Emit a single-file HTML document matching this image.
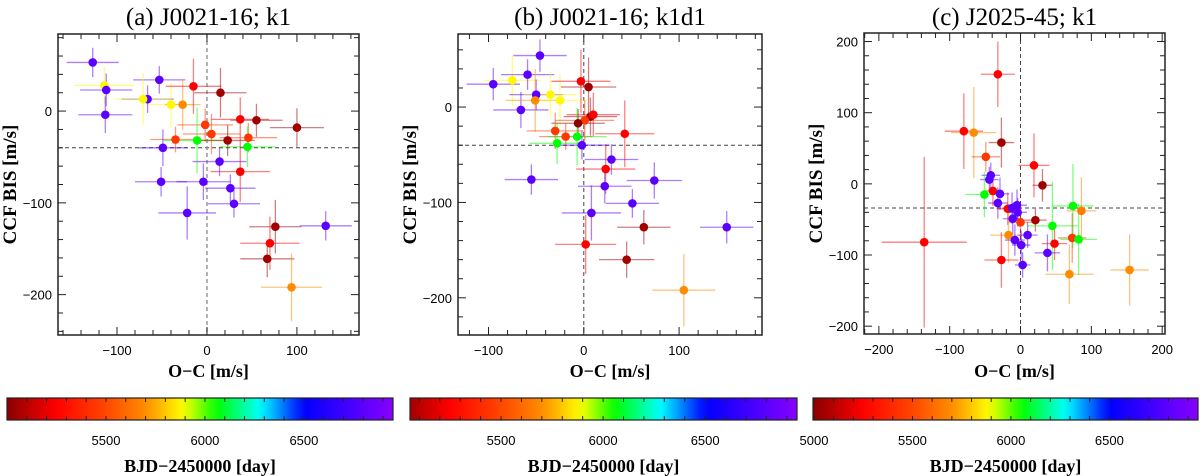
<!DOCTYPE html>
<html><head><meta charset="utf-8">
<style>
html,body{margin:0;padding:0;background:#fff;}
svg{display:block;}
</style></head>
<body>
<svg id="fig" width="1200" height="476" xmlns="http://www.w3.org/2000/svg"></svg>
<script>
// ---- Panel (a) J0021-16; k1 data ----
const aX    = [-127,-114,-112,-113,-53,-66,-71,-40,-27,-15,15,37,55,100,-2,5,-35,-11,23,46,45,-49,14,37,-51,-4,26,30,-22,76,132,70,67,94];
const aY    = [53,28,23,-4,34,13,13,7,7,27,20,-9,-10,-18,-15,-25,-31,-32,-32,-29,-39,-40,-55,-66,-77,-77,-84,-101,-111,-126,-125,-144,-161,-192];
const aXerr = [29,33,29,30,29,29,30,25,20,31,29,32,29,30,31,32,28,37,30,32,31,27,30,33,29,30,28,29,32,29,29,33,30,34];
const aYerr = [16,20,18,20,15,15,28,25,28,30,27,24,18,21,18,22,14,36,17,16,22,20,16,33,16,20,15,15,29,29,16,29,20,37];
const aDate = [6800,5880,6800,6800,6800,6800,5880,5880,5700,5250,5050,5250,5050,5050,5450,5450,5450,6060,5050,5450,6060,6800,6800,5250,6800,6800,6800,6800,6800,5050,6800,5250,5050,5700];
// ---- Panel (b) J0021-16; k1d1 data ----
const bX    = [-95,-75,-46,-59,-50,-66,-51,-35,-25,-3,5,7,10,1,-6,-30,-19,-7,-28,-2,43,29,23,-55,74,22,51,8,63,150,2,45,105];
const bY    = [24,28,54,34,13,-3,7,13,7,27,21,-10,-8,-14,-17,-25,-31,-31,-38,-40,-28,-55,-65,-76,-77,-83,-101,-111,-126,-126,-144,-160,-192];
const bXerr = [28,30,28,28,28,29,31,28,28,31,29,28,28,31,28,30,28,31,29,29,31,28,31,28,29,28,28,31,28,28,32,29,33];
const bYerr = [17,26,17,16,16,19,33,24,28,33,31,20,23,21,15,19,14,30,22,15,35,16,26,16,19,18,15,29,18,17,31,19,38];
const bDate = [6800,5880,6800,6800,6800,6800,5700,5880,5880,5250,5050,5050,5250,5450,5000,5450,5450,6060,6060,6800,5250,6800,5250,6800,6800,6800,6800,6800,5050,6800,5250,5050,5700];
// ---- Panel (c) J2025-45; k1 data ----
const cX    = [-32,-80,-66,-27,-49,19,31,-42,-44,-51,-39,-29,-32,-18,-12,-5,-4,-11,0,21,-17,-8,1,10,3,-27,-136,45,48,38,74,86,73,82,69,154];
const cY    = [154,74,72,58,38,26,-2,12,6,-15,-10,-14,-27,-35,-34,-30,-40,-49,-54,-51,-72,-79,-86,-72,-114,-107,-82,-59,-84,-97,-31,-38,-76,-78,-127,-121];
const cXerr = [24,27,32,18,20,22,14,13,13,27,14,13,14,16,14,14,13,14,17,16,26,14,13,14,11,24,60,36,18,18,29,21,20,26,34,27];
const cYerr = [46,53,64,35,21,45,23,18,18,32,21,23,22,23,22,22,20,22,25,16,39,22,20,18,18,39,120,62,23,26,59,47,35,50,42,50];
const cDate = [5250,5250,5700,5050,5450,5250,5050,6800,6800,6060,5250,6800,6800,5250,6800,6800,6800,6800,5450,5050,5700,6800,6800,6800,6800,5250,5250,6060,5250,6800,6060,5650,5450,6060,5700,5700];
// ---- tick labels ----
const aXTicks = [-100,0,100];
const aYTicks = [0,-100,-200];
const bXTicks = [-100,0,100];
const bYTicks = [0,-100,-200];
const cXTicks = [-200,-100,0,100,200];
const cYTicks = [200,100,0,-100,-200];
const cbTicksAB = [5500,6000,6500];
const cbTicksC = [5000,5500,6000,6500];

const NS='http://www.w3.org/2000/svg';
const svg=document.getElementById('fig');
function mk(tag,attrs,parent){const e=document.createElementNS(NS,tag);for(const k in attrs)e.setAttribute(k,attrs[k]);(parent||svg).appendChild(e);return e;}

const stops=[[5000,[139,0,0]],[5250,[255,0,0]],[5500,[255,70,0]],[5700,[255,140,0]],[5890,[255,255,0]],[6060,[0,255,0]],[6280,[0,255,255]],[6500,[0,0,255]],[6950,[136,0,255]]];
function cmap(v){
  if(v<=stops[0][0])return 'rgb('+stops[0][1]+')';
  for(let i=1;i<stops.length;i++){if(v<=stops[i][0]){const t=(v-stops[i-1][0])/(stops[i][0]-stops[i-1][0]);const a=stops[i-1][1],b=stops[i][1];return 'rgb('+a.map((x,j)=>Math.round(x+(b[j]-x)*t)).join(',')+')';}}
  return 'rgb('+stops[stops.length-1][1]+')';
}

function panel(cfg){
  const g=mk('g',{});
  
  
  const sx=v=>cfg.x0+(v-cfg.xmin)/(cfg.xmax-cfg.xmin)*(cfg.x1-cfg.x0);
  const sy=v=>cfg.y1-(v-cfg.ymin)/(cfg.ymax-cfg.ymin)*(cfg.y1-cfg.y0);
  const t=mk('text',{x:(cfg.x0+cfg.x1)/2,y:25,'text-anchor':'middle','font-family':'"Liberation Serif",serif','font-size':'25'},g);
  t.textContent=cfg.title;
  
  
  const hl=mk('line',{x1:cfg.x0,x2:cfg.x1,y1:sy(cfg.href),y2:sy(cfg.href),stroke:'#444','stroke-width':1,'stroke-dasharray':'4,3'},g);
  
  
  const vl=mk('line',{x1:sx(0),x2:sx(0),y1:cfg.y0,y2:cfg.y1,stroke:cfg.vcol,'stroke-width':cfg.vw,'stroke-dasharray':'4,3'},g);
  
  
  for(let i=0;i<cfg.X.length;i++){
    const c=cmap(cfg.D[i]);
    const e=mk('g',{stroke:c,'stroke-opacity':0.5,'stroke-width':1.3},g);
    
    
    mk('line',{x1:sx(cfg.X[i]-cfg.XE[i]),x2:sx(cfg.X[i]+cfg.XE[i]),y1:sy(cfg.Y[i]),y2:sy(cfg.Y[i])},e);
    mk('line',{x1:sx(cfg.X[i]),x2:sx(cfg.X[i]),y1:sy(cfg.Y[i]-cfg.YE[i]),y2:sy(cfg.Y[i]+cfg.YE[i])},e);
  }
  for(let i=0;i<cfg.X.length;i++){
    const p=mk('circle',{cx:sx(cfg.X[i]),cy:sy(cfg.Y[i]),r:4.3,fill:cmap(cfg.D[i])},g);
    
    
  }
  const fr=mk('rect',{x:cfg.x0,y:cfg.y0,width:cfg.x1-cfg.x0,height:cfg.y1-cfg.y0,fill:'none',stroke:'#222','stroke-width':1.5},g);
  
  
  const tg=mk('g',{stroke:'#222','stroke-width':1},g);
  
  
  for(let v=Math.ceil(cfg.xmin/20)*20;v<=cfg.xmax;v+=20){const L=(v%100===0)?8:5;const x=sx(v);
    mk('line',{x1:x,x2:x,y1:cfg.y1,y2:cfg.y1-L},tg);mk('line',{x1:x,x2:x,y1:cfg.y0,y2:cfg.y0+L},tg);}
  for(let v=Math.ceil(cfg.ymin/20)*20;v<=cfg.ymax;v+=20){const L=(v%100===0)?8:5;const y=sy(v);
    mk('line',{x1:cfg.x0,x2:cfg.x0+L,y1:y,y2:y},tg);mk('line',{x1:cfg.x1,x2:cfg.x1-L,y1:y,y2:y},tg);}
  for(const v of cfg.xt){const l=mk('text',{x:sx(v),y:cfg.y1+20,'text-anchor':'middle','font-family':'"Liberation Sans",sans-serif','font-size':'13'},g);l.textContent=v<0?'\u2212'+(-v):v;
    }
  for(const v of cfg.yt){const l=mk('text',{x:cfg.x0-6,y:sy(v)+5,'text-anchor':'end','font-family':'"Liberation Sans",sans-serif','font-size':'13'},g);l.textContent=v<0?'\u2212'+(-v):v;
    }
  const xl=mk('text',{x:(cfg.x0+cfg.x1)/2,y:377,'text-anchor':'middle','font-family':'"Liberation Serif",serif','font-size':'18','font-weight':'bold'},g);
  xl.textContent='O\u2212C [m/s]';
  
  
  const yl=mk('text',{x:0,y:0,'text-anchor':'middle','font-family':'"Liberation Serif",serif','font-size':'19','font-weight':'bold',transform:'translate('+(cfg.x0-42)+','+((cfg.y0+cfg.y1)/2)+') rotate(-90)'},g);
  yl.textContent='CCF BIS [m/s]';
  
  
}

panel({name:'panel-a',title:'(a) J0021-16; k1',x0:58,x1:359,y0:34,y1:335,xmin:-165.6,xmax:169,ymin:-244,ymax:84,href:-40,vcol:'#999',vw:1.5,X:aX,Y:aY,XE:aXerr,YE:aYerr,D:aDate,xt:aXTicks,yt:aYTicks});
panel({name:'panel-b',title:'(b) J0021-16; k1d1',x0:458,x1:762,y0:34,y1:335,xmin:-132,xmax:187,ymin:-239,ymax:76.6,href:-40,vcol:'#444',vw:1,X:bX,Y:bY,XE:bXerr,YE:bYerr,D:bDate,xt:bXTicks,yt:bYTicks});
panel({name:'panel-c',title:'(c) J2025-45; k1',x0:864,x1:1165,y0:33,y1:334,xmin:-221,xmax:204,ymin:-211,ymax:212,href:-34,vcol:'#444',vw:1,X:cX,Y:cY,XE:cXerr,YE:cYerr,D:cDate,xt:cXTicks,yt:cYTicks});

const defs=mk('defs',{});
function colorbar(name,x0,x1,vmin,vmax,ticks,gid){
  const g=mk('g',{});
  
  
  const gr=mk('linearGradient',{id:gid,x1:0,x2:1,y1:0,y2:0},defs);
  for(let v=vmin;v<=vmax+1;v+=(vmax-vmin)/40){mk('stop',{offset:(v-vmin)/(vmax-vmin),'stop-color':cmap(v)},gr);}
  const sx=v=>x0+(v-vmin)/(vmax-vmin)*(x1-x0);
  mk('rect',{x:x0,y:398,width:x1-x0,height:22,fill:'url(#'+gid+')',stroke:'#222','stroke-width':1.2},g);
  for(let v=Math.ceil(vmin/100)*100;v<vmax;v+=100){const x=sx(v);
    mk('line',{x1:x,x2:x,y1:398,y2:402,stroke:'#222'},g);mk('line',{x1:x,x2:x,y1:420,y2:416,stroke:'#222'},g);}
  for(const v of ticks){const l=mk('text',{x:sx(v),y:445,'text-anchor':'middle','font-family':'"Liberation Sans",sans-serif','font-size':'13'},g);l.textContent=v;
    }
  const t=mk('text',{x:(x0+x1)/2,y:472,'text-anchor':'middle','font-family':'"Liberation Serif",serif','font-size':'18','font-weight':'bold'},g);
  t.textContent='BJD\u22122450000 [day]';
  
  
}
colorbar('colorbar-a',7,393,5000,6950,cbTicksAB,'g1');
colorbar('colorbar-b',410,797,5054,6950,cbTicksAB,'g2');
colorbar('colorbar-c',813,1198,4995,6950,cbTicksC,'g3');
</script>
</body></html>
